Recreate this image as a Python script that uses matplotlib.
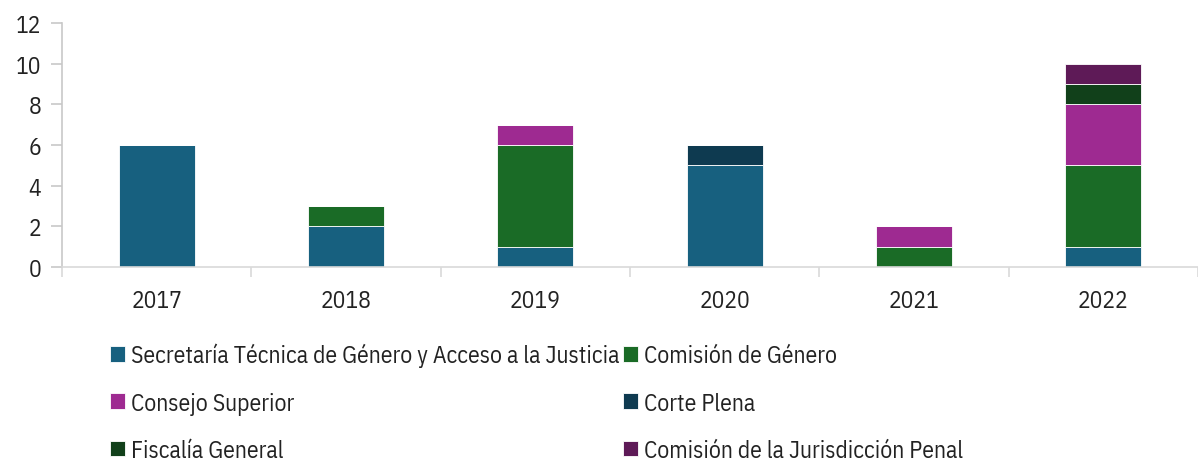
import matplotlib
matplotlib.use("Agg")
import matplotlib.pyplot as plt
from matplotlib import font_manager
import numpy as np

years = ["2017", "2018", "2019", "2020", "2021", "2022"]
series_names = [
    "Secretaría Técnica de Género y Acceso a la Justicia",
    "Comisión de Género",
    "Consejo Superior",
    "Corte Plena",
    "Fiscalía General",
    "Comisión de la Jurisdicción Penal",
]
secretaria = [6, 2, 1, 5, 0, 1]
comision_genero = [0, 1, 5, 0, 1, 4]
consejo_superior = [0, 0, 1, 0, 1, 3]
corte_plena = [0, 0, 0, 1, 0, 0]
fiscalia = [0, 0, 0, 0, 0, 1]
comision_penal = [0, 0, 0, 0, 0, 1]
colors = ["#17607f", "#1a6b26", "#9e2a91", "#0e3a50", "#11401a", "#5e1a57"]

avail = {f.name for f in font_manager.fontManager.ttflist}
prefs = ["IBM Plex Sans Condensed", "Roboto Condensed", "Open Sans Condensed",
         "Encode Sans Condensed", "Fira Sans Condensed", "Barlow Semi Condensed",
         "PT Sans Narrow", "Archivo Narrow", "Liberation Sans Narrow", "Roboto"]
fam = next((p for p in prefs if p in avail), "DejaVu Sans")
plt.rcParams["font.family"] = [fam, "DejaVu Sans"]

FS = 17
W, H = 1198, 460
fig = plt.figure(figsize=(W / 100, H / 100), dpi=100)
ax = fig.add_axes([62 / W, 1 - 268 / H, (W - 62) / W, (268 - 24) / H])

data = [secretaria, comision_genero, consejo_superior, corte_plena, fiscalia, comision_penal]
x = np.arange(len(years))
bottom = np.zeros(len(years))
handles = []
for name, vals, c in zip(series_names, data, colors):
    b = ax.bar(x, vals, 0.4, bottom=bottom, color=c, label=name,
               edgecolor="white", linewidth=0.6)
    handles.append(b)
    bottom += np.array(vals)

step = 191.45
ax.set_xlim(-0.5, -0.5 + (W - 62) / step)
ax.set_ylim(0, 12)
ax.set_yticks(range(0, 13, 2))
ax.set_xticks(x)
ax.set_xticklabels(years)
ax.set_xticks(np.arange(-0.5, 6, 1), minor=True)

for s in ["top", "right"]:
    ax.spines[s].set_visible(False)
ax.spines["left"].set_color("#c8c8c8")
ax.spines["bottom"].set_color("#d9d9d9")
ax.spines["left"].set_linewidth(1.2)
ax.spines["bottom"].set_linewidth(1.2)
ax.tick_params(axis="y", length=8, width=1.2, color="#c8c8c8", labelsize=FS, labelcolor="#222222", pad=7)
ax.tick_params(axis="x", which="major", length=0, labelsize=FS, labelcolor="#222222", pad=16)
ax.tick_params(axis="x", which="minor", length=7, width=1.2, color="#d9d9d9")

order = [0, 2, 4, 1, 3, 5]
leg = fig.legend([handles[i] for i in order], [series_names[i] for i in order],
                 ncol=2, loc="upper left", bbox_to_anchor=(110 / W, 1 - 344 / H),
                 frameon=False, fontsize=FS, handlelength=0.64, handleheight=0.64,
                 handletextpad=0.25, columnspacing=0.15, labelspacing=1.02,
                 borderaxespad=0, borderpad=0)
for t in leg.get_texts():
    t.set_color("#222222")

fig.savefig("out.png", dpi=100)
